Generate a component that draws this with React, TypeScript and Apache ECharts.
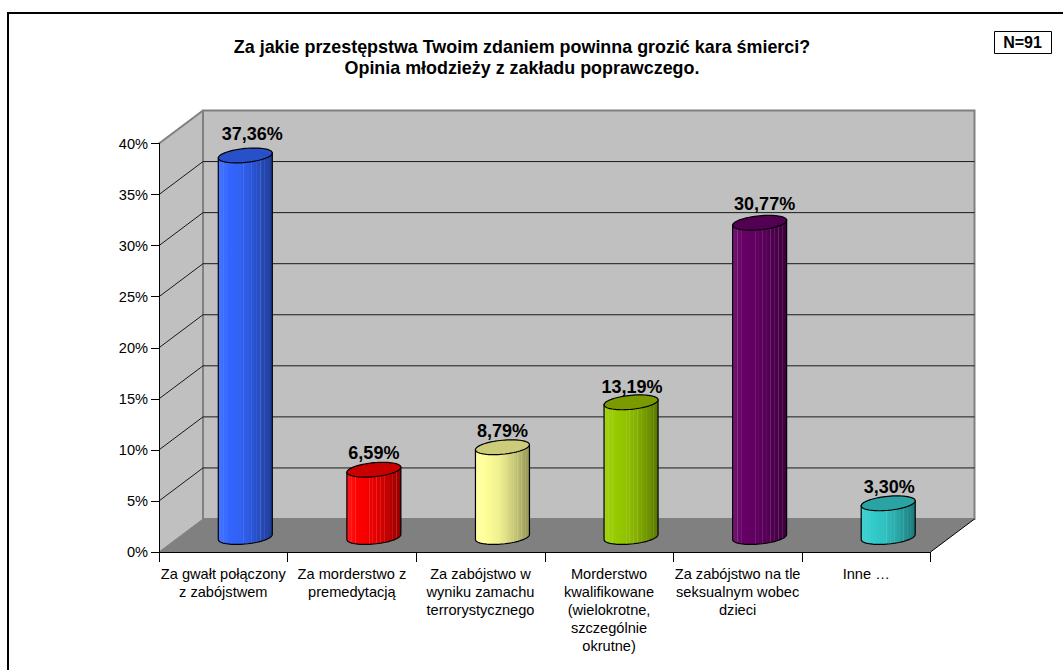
import React, { useEffect, useRef } from "react";
import * as echarts from "echarts";

const categories = [
  "Za gwałt połączony\nz zabójstwem",
  "Za morderstwo z\npremedytacją",
  "Za zabójstwo w\nwyniku zamachu\nterrorystycznego",
  "Morderstwo\nkwalifikowane\n(wielokrotne,\nszczególnie\nokrutne)",
  "Za zabójstwo na tle\nseksualnym wobec\ndzieci",
  "Inne …",
];
const values = [37.36, 6.59, 8.79, 13.19, 30.77, 3.3];
const yTicks = [5, 10, 15, 20, 25, 30, 35];
const titleLines = [
  "Za jakie przestępstwa Twoim zdaniem powinna grozić kara śmierci?",
  "Opinia młodzieży z zakładu poprawczego.",
];
const sampleNote = "N=91";

// Styling / layout constants
const FONT = "'Liberation Sans', Arial, sans-serif";
const faceColors = ["#3366FF", "#FF0000", "#FFFF99", "#99CC00", "#660066", "#33CCCC"];
const capColors = ["#2850C8", "#C80000", "#CCCC7A", "#7A9A00", "#520052", "#29A3A3"];
const labelNudge: [number, number][] = [
  [7, -21], [0, -17], [0, -16], [1, -15], [5, -19], [1, -16],
];
const DEPTH_X = 44;
const DEPTH_Y = -33;
const BAR_DX = 22;
const BAR_DY = -15;
const RX = 27;
const RY = 7;
const SHEAR = 2.5;
const stripes = [0.09, 0.16, 0.42, 0.47, 0.55, 0.62, 0.7, 0.78, 0.85, 0.92];

function blend(hex: string, k: number, toward: number): number[] {
  const n = parseInt(hex.slice(1), 16);
  return [(n >> 16) & 255, (n >> 8) & 255, n & 255].map((c) =>
    Math.round(c + (toward - c) * k)
  );
}
const css = (c: number[]) => `rgb(${c[0]},${c[1]},${c[2]})`;

function faceGradient(hex: string) {
  const shade = (p: number): number[] => {
    if (p < 0.18) return blend(hex, 0.1 * (1 - p / 0.18), 255);
    return blend(hex, Math.pow((p - 0.18) / 0.82, 1.6) * 0.42, 0);
  };
  const stops: { offset: number; color: string }[] = [];
  const marks = [0, 0.18, 0.4, 0.6, 0.8, 1];
  const all = [
    ...marks.map((p) => ({ p, light: false })),
    ...stripes.map((p) => ({ p, light: true })),
  ].sort((a, b) => a.p - b.p);
  all.forEach(({ p, light }) => {
    const base = shade(p);
    if (light) {
      const lit = base.map((v) => Math.round(v + (255 - v) * 0.16));
      stops.push({ offset: p - 0.01, color: css(base) });
      stops.push({ offset: p, color: css(lit) });
      stops.push({ offset: p + 0.01, color: css(base) });
    } else {
      stops.push({ offset: p, color: css(base) });
    }
  });
  return new echarts.graphic.LinearGradient(0, 0, 1, 0, stops);
}

function ellipsePoint(cx: number, cy: number, t: number): number[] {
  return [cx + RX * Math.cos(t), cy + RY * Math.sin(t) - SHEAR * Math.cos(t)];
}

function renderWalls(params: any, api: any) {
  const cs = params.coordSys;
  const left = cs.x;
  const right = cs.x + cs.width;
  const top = cs.y;
  const bottom = cs.y + cs.height;
  const children: any[] = [
    {
      type: "polygon",
      shape: { points: [[left, top], [left + DEPTH_X, top + DEPTH_Y], [left + DEPTH_X, bottom + DEPTH_Y], [left, bottom]] },
      style: { fill: "#C0C0C0", stroke: "none" },
    },
    {
      type: "rect",
      shape: { x: left + DEPTH_X, y: top + DEPTH_Y, width: right - left, height: bottom - top },
      style: { fill: "#C0C0C0", stroke: "#808080", lineWidth: 2 },
    },
    {
      type: "polygon",
      shape: { points: [[left, bottom], [right, bottom], [right + DEPTH_X, bottom + DEPTH_Y], [left + DEPTH_X, bottom + DEPTH_Y]] },
      style: { fill: "#808080", stroke: "none" },
    },
    {
      type: "line",
      shape: { x1: right, y1: bottom, x2: right + DEPTH_X, y2: bottom + DEPTH_Y },
      style: { stroke: "#000000", lineWidth: 1 },
    },
    {
      type: "line",
      shape: { x1: left, y1: top, x2: left + DEPTH_X, y2: top + DEPTH_Y },
      style: { stroke: "#808080", lineWidth: 2 },
    },
    {
      type: "line",
      shape: { x1: left, y1: bottom, x2: left + DEPTH_X, y2: bottom + DEPTH_Y },
      style: { stroke: "#808080", lineWidth: 1 },
    },
  ];
  yTicks.forEach((t) => {
    const y = api.coord([0, t])[1];
    children.push({
      type: "polyline",
      shape: { points: [[left, y], [left + DEPTH_X, y + DEPTH_Y], [right + DEPTH_X, y + DEPTH_Y]] },
      style: { stroke: "#1a1a1a", lineWidth: 1, fill: "none" },
    });
  });
  return { type: "group", children };
}

function renderCylinder(params: any, api: any) {
  const i = params.dataIndex;
  const base = api.coord([api.value(0), 0]);
  const head = api.coord([api.value(0), api.value(1)]);
  const cx = base[0] + BAR_DX;
  const by = base[1] + BAR_DY;
  const ty = head[1] + BAR_DY;
  const steps = 36;
  const lower: number[][] = [];
  for (let s = 0; s <= steps; s++) {
    lower.push(ellipsePoint(cx, by, (Math.PI * s) / steps));
  }
  const bodyPts = [...lower, ellipsePoint(cx, ty, Math.PI), ellipsePoint(cx, ty, 0)];
  const capPts: number[][] = [];
  for (let s = 0; s < steps * 2; s++) {
    capPts.push(ellipsePoint(cx, ty, (Math.PI * s) / steps));
  }
  return {
    type: "group",
    children: [
      {
        type: "polygon",
        shape: { points: bodyPts },
        style: { fill: faceGradient(faceColors[i]), stroke: "#000000", lineWidth: 1.2 },
      },
      {
        type: "polygon",
        shape: { points: capPts },
        style: { fill: capColors[i], stroke: "#000000", lineWidth: 1.2 },
      },
      {
        type: "text",
        x: cx + labelNudge[i][0],
        y: ty + labelNudge[i][1],
        style: {
          text: values[i].toFixed(2).replace(".", ",") + "%",
          font: `bold 18px ${FONT}`,
          fill: "#000000",
          align: "center",
          verticalAlign: "middle",
        },
      },
    ],
  };
}

export default function App() {
  const ref = useRef<HTMLDivElement>(null);
  useEffect(() => {
    const chart = echarts.init(ref.current!, undefined, { renderer: "svg" });
    chart.setOption({
      animation: false,
      backgroundColor: "#FFFFFF",
      textStyle: { fontFamily: FONT },
      title: {
        text: titleLines.join("\n"),
        left: 517,
        top: 31,
        textAlign: "center",
        textStyle: { fontFamily: FONT, fontWeight: "bold", fontSize: 17.9, lineHeight: 21, color: "#000000" },
      },
      grid: { left: 159, right: 132.5, top: 143.5, bottom: 118 },
      xAxis: {
        type: "category",
        data: categories,
        z: 5,
        axisLine: { show: true, lineStyle: { color: "#000000", width: 1 } },
        axisTick: { show: true, length: 10, alignWithLabel: false, lineStyle: { color: "#000000", width: 1 } },
        axisLabel: {
          interval: 0,
          margin: 13,
          color: "#000000",
          fontFamily: FONT,
          fontSize: 14.6,
          lineHeight: 18,
        },
      },
      yAxis: {
        type: "value",
        min: 0,
        max: 40,
        interval: 5,
        z: 5,
        splitLine: { show: false },
        axisLine: { show: true, lineStyle: { color: "#000000", width: 1 } },
        axisTick: { show: true, length: 8, lineStyle: { color: "#000000", width: 1 } },
        axisLabel: {
          formatter: "{value}%",
          margin: 11,
          color: "#000000",
          fontFamily: FONT,
          fontSize: 14.6,
        },
      },
      series: [
        {
          type: "custom",
          z: 1,
          silent: true,
          renderItem: renderWalls,
          data: [[0, 0]],
          encode: { x: 0, y: 1 },
        },
        {
          type: "custom",
          z: 3,
          silent: true,
          renderItem: renderCylinder,
          data: values.map((v, i) => [i, v]),
          encode: { x: 0, y: 1 },
        },
      ],
      graphic: [
        {
          type: "polyline",
          shape: { points: [[8, 670], [8, 13], [1063, 13]] },
          style: { stroke: "#000000", lineWidth: 2, fill: "none" },
        },
        {
          type: "rect",
          shape: { x: 994.5, y: 31.5, width: 57, height: 22 },
          style: { fill: "#FFFFFF", stroke: "#000000", lineWidth: 1 },
        },
        {
          type: "text",
          x: 1022.5,
          y: 42.5,
          style: {
            text: sampleNote,
            font: `bold 16px ${FONT}`,
            fill: "#000000",
            align: "center",
            verticalAlign: "middle",
          },
        },
      ],
    });
    return () => chart.dispose();
  }, []);
  return (
    <div
      ref={ref}
      style={{ position: "absolute", left: 0, top: 0, width: 1063, height: 670 }}
    />
  );
}
